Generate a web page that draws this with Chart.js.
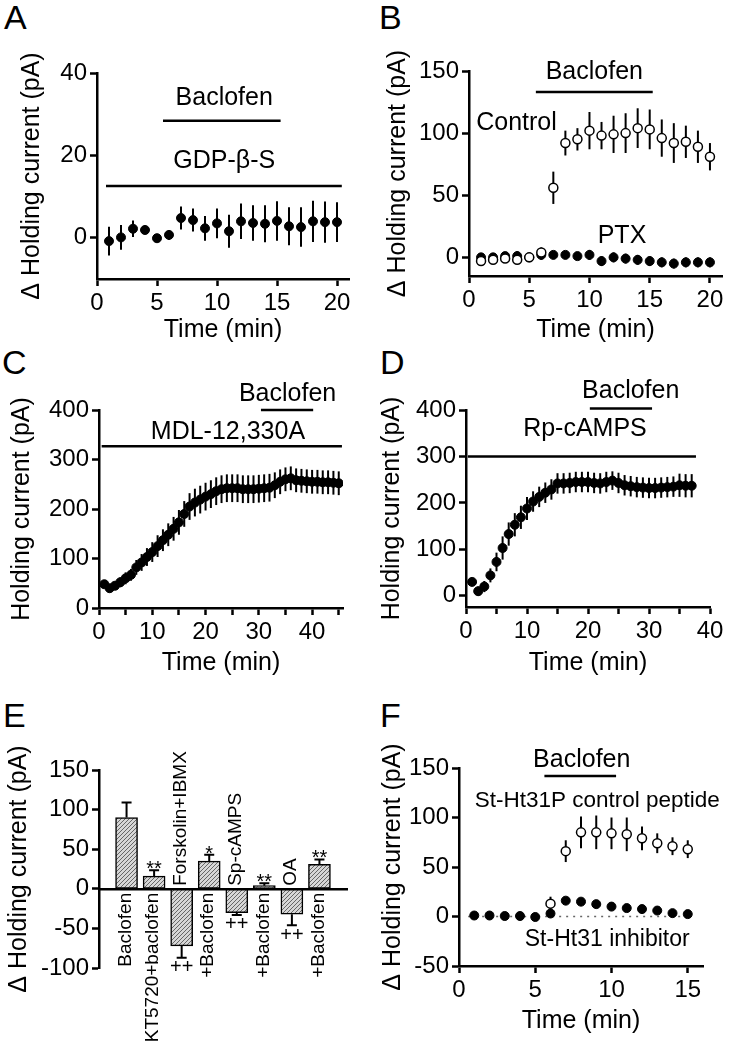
<!DOCTYPE html>
<html>
<head>
<meta charset="utf-8">
<script src="https://cdn.jsdelivr.net/npm/chart.js@4.4.1/dist/chart.umd.min.js"></script>
<style>
  body { margin: 0; background: #fff; }
  #wrap { position: relative; width: 741px; height: 1050px; font-family: "Liberation Sans", Arial, sans-serif; }
  #wrap canvas { position: absolute; }
  .lbl { position: absolute; font-size: 34px; line-height: 34px; color: #000; }
</style>
</head>
<body>
<div id="wrap">
  <div class="lbl" style="left:4px;top:0px">A</div>
  <div class="lbl" style="left:379px;top:0px">B</div>
  <div class="lbl" style="left:2px;top:345px">C</div>
  <div class="lbl" style="left:380px;top:345px">D</div>
  <div class="lbl" style="left:3px;top:698px">E</div>
  <div class="lbl" style="left:380px;top:698px">F</div>
  <canvas id="chartA" width="370" height="345" style="left:0;top:0"></canvas>
  <canvas id="chartB" width="371" height="345" style="left:370px;top:0"></canvas>
  <canvas id="chartC" width="370" height="348" style="left:0;top:330px"></canvas>
  <canvas id="chartD" width="371" height="348" style="left:370px;top:330px"></canvas>
  <canvas id="chartE" width="370" height="390" style="left:0;top:660px"></canvas>
  <canvas id="chartF" width="371" height="376" style="left:370px;top:660px"></canvas>
</div>
<script>
// ---- data ----
// A: GDP-beta-S
var aTime = [1,2,3,4,5,6,7,8,9,10,11,12,13,14,15,16,17,18,19,20];
var aCurrent = [-0.8,0.1,2.2,1.9,-0.1,0.7,4.8,4.3,2.3,3.5,1.6,4.0,3.6,3.4,4.1,2.8,2.6,4.0,3.8,3.8];
var aErr = [3.5,3,2,1,0.5,1.2,2.8,2.8,3,3.6,4,4.3,4.3,4.5,4.8,4.6,4.8,5,5,4.8];

// B: control vs PTX
var bTime = [1,2,3,4,5,6,7,8,9,10,11,12,13,14,15,16,17,18,19,20];
var bControl = [-3,-2,-1,-2,0,4,56,92,95,102,98,99,100,104,103,96,92,93,89,81];
var bControlErr = [3,2,3,3,1,4,13,10,9,15,11,15,16,16,16,15,16,13,13,11];
var bPTX = [0,0,1,1,0,2,2,2,1,2,-3,0,-1,-2,-3,-4,-5,-4,-4,-4];
var bPTXErr = [3,2,3,4,1,4,2,2,2,4,4,4,4,4,4,4,4,4,4,4];

// C: MDL-12,330A
var cTime = [1,2,3,4,5,6,7,8,9,10,11,12,13,14,15,16,17,18,19,20,21,22,23,24,25,26,27,28,29,30,31,32,33,34,35,36,37,38,39,40,41,42,43,44,45];
var cCurrent = [48,40,45,52,60,67,82,92,103,113,125,137,148,160,173,190,205,213,219,225,230,236,240,242,242,242,240,240,240,241,242,243,248,255,260,262,258,257,256,255,255,254,254,253,252];
var cErr = [8,8,8,10,12,12,15,17,18,20,22,22,23,24,25,26,27,28,28,28,28,28,28,28,28,28,28,28,28,28,28,28,26,25,24,24,24,24,24,24,24,24,24,24,24];

// D: Rp-cAMPS
var dTime = [1,2,3,4,5,6,7,8,9,10,11,12,13,14,15,16,17,18,19,20,21,22,23,24,25,26,27,28,29,30,31,32,33,34,35,36,37];
var dCurrent = [30,10,20,44,73,103,133,153,169,188,203,213,222,229,242,242,243,245,245,245,243,242,245,248,243,238,236,234,233,232,232,233,234,235,238,237,237];
var dErr = [5,10,12,15,20,25,25,25,25,25,22,22,22,22,22,22,22,22,22,22,22,22,22,20,22,22,22,22,22,22,22,22,22,22,25,25,25];

// E: summary bars
var eNames = ['Baclofen','KT5720+baclofen','Forskolin+IBMX','+Baclofen','Sp-cAMPS','+Baclofen','OA','+Baclofen'];
var eValues = [90,16,-72,35,-30,4,-32,31];
var eErrors = [19,7.5,15,8,3,3,14,6];
var eMarks = ['','**','++','*','++','**','++','**'];

// F: St-Ht31 peptides
var fControlTime = [6,7,8,9,10,11,12,13,14,15];
var fControl = [13,66,85,85,84,83,79,74,71,68];
var fControlErr = [7,11,16,17,16,17,12,10,9,9];
var fInhibTime = [1,2,3,4,5,6,7,8,9,10,11,12,13,14,15];
var fInhib = [1,1,0.5,0.5,-0.5,3,16,15,12.5,10,8.5,7.5,6,3.4,2.4];
var fInhibErr = [1,1,1,1,1,2,2,2,2,2,2,2,2,2,2];

// ---- helpers ----
var FONT = '"Liberation Sans", Arial, sans-serif';
var black = '#000';

function pts(xs, ys) {
  return xs.map(function (x, i) { return { x: x, y: ys[i] }; });
}

// annotation bars / labels, in data units, per canvas
var notes = {
  chartA: {
    lines: [{ from: 5.5, to: 15.3, at: 28.4 }, { from: 0.75, to: 20.4, at: 12.6 }],
    texts: [{ text: 'Baclofen', x: 10.6, y: 33.8 }, { text: 'GDP-\u03B2-S', x: 10.6, y: 18.7 }]
  },
  chartB: {
    lines: [{ from: 5.55, to: 15.25, at: 133 }],
    texts: [{ text: 'Baclofen', x: 10.4, y: 149 }, { text: 'Control', x: 3.94, y: 108 }, { text: 'PTX', x: 12.7, y: 17 }]
  },
  chartC: {
    lines: [{ from: 30.4, to: 40.2, at: 400 }, { from: 0.5, to: 45.6, at: 327 }],
    texts: [{ text: 'Baclofen', x: 35.4, y: 432 }, { text: 'MDL-12,330A', x: 24.2, y: 356 }]
  },
  chartD: {
    lines: [{ from: 20.3, to: 30.5, at: 403 }, { from: 0.3, to: 37.7, at: 300 }],
    texts: [{ text: 'Baclofen', x: 27.0, y: 441 }, { text: 'Rp-cAMPS', x: 19.5, y: 358 }]
  },
  chartF: {
    lines: [{ from: 5.6, to: 10.3, at: 142 }, { from: 0.6, to: 15, at: 0, width: 1.5, dash: [2, 5], color: '#666' }],
    texts: [{ text: 'Baclofen', x: 8.05, y: 158 },
            { text: 'St-Ht31P control peptide', x: 9.07, y: 117, size: 22.5 },
            { text: 'St-Ht31 inhibitor', x: 9.72, y: -23.2, size: 23 }]
  }
};

var errorBars = {
  id: 'errorBars',
  beforeDatasetsDraw: function (chart) {
    var ctx = chart.ctx;
    var y = chart.scales.y;
    var isBar = chart.config.type === 'bar';
    chart.data.datasets.forEach(function (ds, di) {
      if (!ds.errors) return;
      var meta = chart.getDatasetMeta(di);
      ctx.save();
      ctx.strokeStyle = black;
      ctx.lineWidth = 2;
      meta.data.forEach(function (el, i) {
        var raw = ds.data[i];
        if (raw == null) return;
        var v = typeof raw === 'object' ? raw.y : raw;
        var e = ds.errors[i];
        ctx.beginPath();
        if (isBar) {
          var end = y.getPixelForValue(v >= 0 ? v + e : v - e);
          ctx.moveTo(el.x, y.getPixelForValue(v));
          ctx.lineTo(el.x, end);
          ctx.moveTo(el.x - 5, end);
          ctx.lineTo(el.x + 5, end);
        } else {
          ctx.moveTo(el.x, y.getPixelForValue(v - e));
          ctx.lineTo(el.x, y.getPixelForValue(v + e));
        }
        ctx.stroke();
      });
      ctx.restore();
    });
  }
};

var annotate = {
  id: 'annotate',
  beforeDatasetsDraw: function (chart) {
    var n = notes[chart.canvas.id];
    if (!n) return;
    var ctx = chart.ctx, x = chart.scales.x, y = chart.scales.y;
    ctx.save();
    n.lines.forEach(function (l) {
      ctx.beginPath();
      ctx.lineWidth = l.width || 2.5;
      ctx.strokeStyle = l.color || black;
      ctx.setLineDash(l.dash || []);
      ctx.moveTo(x.getPixelForValue(l.from), y.getPixelForValue(l.at));
      ctx.lineTo(x.getPixelForValue(l.to), y.getPixelForValue(l.at));
      ctx.stroke();
    });
    ctx.restore();
  },
  afterDraw: function (chart) {
    var n = notes[chart.canvas.id];
    if (!n) return;
    var ctx = chart.ctx, x = chart.scales.x, y = chart.scales.y;
    ctx.save();
    ctx.fillStyle = black;
    ctx.textAlign = 'center';
    ctx.textBaseline = 'middle';
    n.texts.forEach(function (t) {
      ctx.font = (t.size || 25) + 'px ' + FONT;
      ctx.fillText(t.text, x.getPixelForValue(t.x), y.getPixelForValue(t.y));
    });
    ctx.restore();
  }
};

function axis(o) {
  return {
    type: 'linear',
    min: o.min,
    max: o.max,
    afterBuildTicks: function (s) { s.ticks = o.ticks.map(function (v) { return { value: v }; }); },
    afterFit: function (s) {
      if (o.width != null) s.width = o.width;
      if (o.height != null) s.height = o.height;
    },
    ticks: {
      color: black,
      font: { family: FONT, size: 24 },
      padding: 3,
      maxRotation: 0,
      autoSkip: false,
      callback: function (v) {
        if (o.labels && o.labels.indexOf(v) < 0) return '';
        return String(v);
      }
    },
    grid: { drawOnChartArea: false, drawTicks: true, tickLength: 7, tickWidth: 2.5, tickColor: black, color: black },
    border: { display: true, color: black, width: 2.5 },
    title: { display: true, text: o.title, color: black, font: { family: FONT, size: 25 }, padding: o.titlePad }
  };
}

function filled(data, err) {
  return { data: data, errors: err, pointRadius: 4.5, pointBackgroundColor: black, pointBorderColor: black, pointBorderWidth: 1, showLine: false };
}
function open(data, err) {
  return { data: data, errors: err, pointRadius: 4.5, pointBackgroundColor: '#fff', pointBorderColor: black, pointBorderWidth: 1.5, showLine: false };
}

function timeChart(id, datasets, pad, xo, yo) {
  return new Chart(document.getElementById(id), {
    type: 'scatter',
    data: { datasets: datasets },
    options: {
      responsive: false,
      animation: false,
      layout: { padding: pad },
      plugins: { legend: { display: false }, tooltip: { enabled: false } },
      scales: { x: axis(xo), y: axis(yo) }
    },
    plugins: [errorBars, annotate]
  });
}

Chart.defaults.font.family = FONT;

// ---- A ----
timeChart('chartA', [filled(pts(aTime, aCurrent), aErr)],
  { top: 73, right: 21, bottom: 0, left: 0 },
  { min: 0, max: 21, ticks: [0, 5, 10, 15, 20], height: 66, title: 'Time (min)', titlePad: { top: 0, bottom: 0 } },
  { min: -10, max: 40, ticks: [0, 20, 40], width: 97, title: '\u0394 Holding current (pA)', titlePad: { top: 17, bottom: 0 } });

// ---- B ----
timeChart('chartB', [open(pts(bTime, bControl), bControlErr), filled(pts(bTime, bPTX), bPTXErr)],
  { top: 71, right: 19, bottom: 0, left: 0 },
  { min: 0, max: 21, ticks: [0, 5, 10, 15, 20], height: 69, title: 'Time (min)', titlePad: { top: 0, bottom: 0 } },
  { min: -15, max: 150, ticks: [0, 50, 100, 150], width: 99, title: '\u0394 Holding current (pA)', titlePad: { top: 13, bottom: 0 } });

// ---- C ----
timeChart('chartC', [filled(pts(cTime, cCurrent), cErr)],
  { top: 80, right: 27, bottom: 0, left: 0 },
  { min: 0, max: 45.8, ticks: [0, 5, 10, 15, 20, 25, 30, 35, 40, 45], labels: [0, 10, 20, 30, 40], height: 70, title: 'Time (min)', titlePad: { top: 0, bottom: 0 } },
  { min: 0, max: 400, ticks: [0, 100, 200, 300, 400], width: 99, title: 'Holding current (pA)', titlePad: { top: 7, bottom: 0 } });

// ---- D ----
timeChart('chartD', [filled(pts(dTime, dCurrent), dErr)],
  { top: 80, right: 31, bottom: 0, left: 0 },
  { min: 0, max: 40, ticks: [0, 5, 10, 15, 20, 25, 30, 35, 40], labels: [0, 10, 20, 30, 40], height: 71, title: 'Time (min)', titlePad: { top: 0, bottom: 0 } },
  { min: -24, max: 400, ticks: [0, 100, 200, 300, 400], width: 96, title: 'Holding current (pA)', titlePad: { top: 7, bottom: 0 } });

// ---- F ----
timeChart('chartF', [open(pts(fControlTime, fControl), fControlErr), filled(pts(fInhibTime, fInhib), fInhibErr)],
  { top: 108, right: 38, bottom: 0, left: 0 },
  { min: 0, max: 16, ticks: [0, 5, 10, 15], height: 70, title: 'Time (min)', titlePad: { top: 0, bottom: 0 } },
  { min: -50, max: 150, ticks: [-50, 0, 50, 100, 150], width: 89, title: '\u0394 Holding current (pA)', titlePad: { top: 8, bottom: 0 } });

// ---- E ----
function hatch() {
  var tile = document.createElement('canvas');
  tile.width = 4; tile.height = 4;
  var g = tile.getContext('2d');
  g.fillStyle = '#d6d6d6';
  g.fillRect(0, 0, 4, 4);
  g.strokeStyle = '#666';
  g.lineWidth = 1;
  g.beginPath(); g.moveTo(0, 4); g.lineTo(4, 0); g.stroke();
  g.beginPath(); g.moveTo(-1, 1); g.lineTo(1, -1); g.stroke();
  g.beginPath(); g.moveTo(3, 5); g.lineTo(5, 3); g.stroke();
  return g.createPattern(tile, 'repeat');
}

var barLabels = {
  id: 'barLabels',
  afterDraw: function (chart) {
    var ctx = chart.ctx, x = chart.scales.x, y = chart.scales.y;
    var zero = y.getPixelForValue(0);
    eNames.forEach(function (name, i) {
      var px = x.getPixelForValue(i + 1);
      var v = eValues[i], e = eErrors[i];
      ctx.save();
      ctx.fillStyle = black;
      ctx.font = '19px ' + FONT;
      ctx.textBaseline = 'middle';
      if (v >= 0) {
        ctx.translate(px - 1, zero + 4);
        ctx.rotate(-Math.PI / 2);
        ctx.textAlign = 'right';
      } else {
        ctx.translate(px - 1, zero - 3);
        ctx.rotate(-Math.PI / 2);
        ctx.textAlign = 'left';
      }
      ctx.fillText(name, 0, 0);
      ctx.restore();
      var m = eMarks[i];
      if (!m) return;
      ctx.save();
      ctx.fillStyle = black;
      ctx.font = '20px ' + FONT;
      ctx.textAlign = 'center';
      if (v >= 0) {
        ctx.textBaseline = 'alphabetic';
        ctx.fillText(m, px, y.getPixelForValue(v + e) + 5);
      } else {
        ctx.textBaseline = 'middle';
        ctx.fillText(m, px, y.getPixelForValue(v - e) + 10);
      }
      ctx.restore();
    });
  }
};

var eYAxis = axis({ min: -100, max: 150, ticks: [-100, -50, 0, 50, 100, 150], width: 99, title: '\u0394 Holding current (pA)', titlePad: { top: 4, bottom: 0 } });

new Chart(document.getElementById('chartE'), {
  type: 'bar',
  data: {
    labels: [''].concat(eNames, ['']),
    datasets: [{
      data: [null].concat(eValues, [null]),
      errors: [0].concat(eErrors, [0]),
      backgroundColor: hatch(),
      borderColor: black,
      borderWidth: 1.5,
      borderSkipped: false,
      barThickness: 22
    }]
  },
  options: {
    responsive: false,
    animation: false,
    layout: { padding: { top: 110, right: 23, bottom: 82, left: 0 } },
    plugins: { legend: { display: false }, tooltip: { enabled: false } },
    scales: {
      x: {
        type: 'category',
        offset: false,
        position: { y: 0 },
        ticks: { display: false },
        grid: { drawOnChartArea: false, drawTicks: false },
        border: { display: true, color: black, width: 2.5 }
      },
      y: eYAxis
    }
  },
  plugins: [errorBars, barLabels]
});
</script>
</body>
</html>
